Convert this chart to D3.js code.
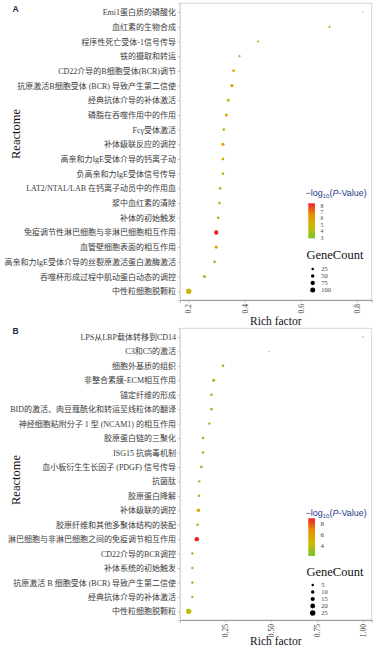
<!DOCTYPE html>
<html><head><meta charset="utf-8">
<script src="https://cdn.jsdelivr.net/npm/d3@7"></script>
<style>body{margin:0;background:#fff}</style>
</head><body>
<svg id="c" width="392" height="657"></svg>
<script>
// ---------- Panel A data (top to bottom) ----------
const categoriesA = [
  "Emi1蛋白质的磷酸化","血红素的生物合成","程序性死亡受体-1信号传导","铁的摄取和转运",
  "CD22介导的B细胞受体(BCR)调节","抗原激活B细胞受体 (BCR) 导致产生第二信使","经典抗体介导的补体激活",
  "磷脂在吞噬作用中的作用","Fcγ受体激活","补体级联反应的调控","高亲和力IgE受体介导的钙离子动",
  "负高亲和力IgE受体信号传导","LAT2/NTAL/LAB 在钙离子动员中的作用血","浆中血红素的清除","补体的初始触发",
  "免疫调节性淋巴细胞与非淋巴细胞相互作用","血管壁细胞表面的相互作用","高亲和力IgE受体介导的丝裂原激活蛋白激酶激活",
  "吞噬杯形成过程中肌动蛋白动态的调控","中性粒细胞脱颗粒"
];
const richA  = [0.822,0.703,0.448,0.382,0.361,0.355,0.342,0.335,0.326,0.323,0.323,0.323,0.313,0.311,0.306,0.299,0.299,0.293,0.257,0.201];
const countA = [6,19,19,19,31,40,31,36,31,40,31,28,28,28,28,77,46,31,36,117];
const logpA  = [2.9,5.65,3.3,3.2,5.5,6.2,4.3,5.6,4.2,5.9,4.8,4.2,3.8,3.7,3.6,8.4,5.6,3.6,3.4,4.5];
const xTicksA = [0.2,0.4,0.6,0.8];
const colorTicksA = [3,4,5,6,7,8];
const sizeTicksA = [25,50,75,100];

// ---------- Panel B data (top to bottom) ----------
const categoriesB = [
  "LPS从LBP载体转移到CD14","C3和C5的激活","细胞外基质的组织","非整合素膜-ECM相互作用","锚定纤维的形成",
  "BID的激活、肉豆蔻酰化和转运至线粒体的翻译","神经细胞粘附分子 1 型 (NCAM1) 的相互作用","胶原蛋白链的三聚化",
  "ISG15 抗病毒机制","血小板衍生生长因子 (PDGF) 信号传导","抗菌肽","胶原蛋白降解","补体级联的调控",
  "胶原纤维和其他多聚体结构的装配","淋巴细胞与非淋巴细胞之间的免疫调节相互作用","CD22介导的BCR调控",
  "补体系统的初始触发","抗原激活 B 细胞受体 (BCR) 导致产生第二信使","经典抗体介导的补体激活","中性粒细胞脱颗粒"
];
const richB  = [1.0,0.488,0.237,0.186,0.174,0.174,0.163,0.128,0.128,0.119,0.108,0.106,0.103,0.098,0.094,0.070,0.070,0.070,0.070,0.05];
const countB = [2,1,6,8,6,6,5,6,6,6,5,5,11,5,17,5,5,5,5,24];
const logpB  = [2.2,2.5,3.0,3.1,2.8,2.8,2.7,2.9,2.9,2.8,2.7,2.8,5.9,2.9,9.0,2.7,2.8,2.8,2.7,4.2];
const xTicksB = [0.25,0.5,0.75,1.0];
const colorTicksB = [4,6,8];
const sizeTicksB = [5,10,15,20,25];

const svg = d3.select("#c");
const SERIF = "'Liberation Serif','Noto Sans CJK SC',serif";
const SANS = "'Liberation Sans',Arial,sans-serif";
const colorStops = ["#78c32d","#cdb900","#e99400","#ee1f26"];

function drawPanel(o) {
  const left = 180, right = 371.7;
  const g = svg.append("g");
  // x scale with ggplot-like 5% expansion
  const ext = d3.extent(o.rich);
  const pad = (ext[1]-ext[0])*0.05;
  const x = d3.scaleLinear().domain([ext[0]-pad, ext[1]+pad]).range([left, right]);
  const y = d3.scalePoint().domain(o.cats).range([o.top, o.bottom]).padding(0.6);
  const cext = d3.extent(o.logp);
  const color = d3.scaleLinear().domain(d3.range(4).map(i => cext[0] + i*(cext[1]-cext[0])/3)).range(colorStops);
  const r = d3.scaleSqrt().domain([0, o.sizeMax]).range([0, o.rMax]);

  // panel border
  g.append("rect").attr("x", left).attr("y", o.top).attr("width", right-left).attr("height", o.bottom-o.top)
    .attr("fill","none").attr("stroke","#d6d6d6").attr("stroke-width",1);

  // y axis
  const ya = g.append("g").attr("transform",`translate(${left},0)`)
    .call(d3.axisLeft(y).tickSize(2.5).tickPadding(1.5));
  ya.select(".domain").attr("stroke","#d6d6d6");
  ya.selectAll(".tick line").attr("stroke","#aaa").attr("stroke-width",0.6);
  ya.selectAll(".tick text").attr("font-family",SERIF).attr("font-size",8).attr("fill","#3a3a3a");

  // x axis
  const xa = g.append("g").attr("transform",`translate(0,${o.bottom})`)
    .call(d3.axisBottom(x).tickValues(o.xTicks).tickFormat(d3.format(o.fmt)).tickSize(2.5));
  xa.select(".domain").attr("stroke","#9a9a9a").attr("stroke-width",1);
  xa.selectAll(".tick line").attr("stroke","#9a9a9a").attr("stroke-width",0.6);
  xa.selectAll(".tick text").attr("font-family",SERIF).attr("font-size",7.5).attr("fill","#3a3a3a")
    .attr("transform","rotate(-90)").attr("text-anchor","end").attr("x",-4).attr("y",0).attr("dy","0.33em");

  // points
  const data = o.cats.map((c,i)=>({c, rf:o.rich[i], n:o.count[i], p:o.logp[i]}));
  g.append("g").selectAll("circle").data(data).join("circle")
    .attr("cx", d=>x(d.rf)).attr("cy", d=>y(d.c)).attr("r", d=>r(d.n)).attr("fill", d=>color(d.p));

  // axis titles
  g.append("text").attr("x",275.8).attr("y",o.bottom+25).attr("text-anchor","middle")
    .attr("font-family",SERIF).attr("font-size",11.5).attr("fill","#111").text("Rich factor");
  g.append("text").attr("transform",`translate(19.5,${o.ylabY}) rotate(-90)`).attr("text-anchor","middle")
    .attr("font-family",SERIF).attr("font-size",12.5).attr("fill","#111").text("Reactome");

  // panel label
  g.append("text").attr("x",12.5).attr("y",o.labY).attr("font-family",SANS).attr("font-weight","bold")
    .attr("font-size",8.5).attr("fill","#1b2a48").text(o.label);

  // colour legend
  const lt = g.append("text").attr("x",305.5).attr("y",o.legTitleY).attr("font-family",SANS)
    .attr("font-size",9).attr("fill","#1f3d8c");
  lt.append("tspan").text("−log");
  lt.append("tspan").attr("font-size",6).attr("dy",2).text("10");
  lt.append("tspan").attr("dy",-2).text("(");
  lt.append("tspan").attr("font-style","italic").text("P");
  lt.append("tspan").text("-Value)");

  const gid = "grad"+o.label;
  const grad = svg.append("defs").append("linearGradient").attr("id",gid)
    .attr("x1",0).attr("y1",1).attr("x2",0).attr("y2",0);
  colorStops.forEach((c,i)=>grad.append("stop").attr("offset",i/3).attr("stop-color",c));
  g.append("rect").attr("x",308.3).attr("y",o.barTop).attr("width",6.7).attr("height",o.barBot-o.barTop)
    .attr("fill",`url(#${gid})`);
  const cy = d3.scaleLinear().domain(cext).range([o.barBot, o.barTop]);
  g.append("g").selectAll("text").data(o.cTicks).join("text")
    .attr("x",320.5).attr("y",d=>cy(d)).attr("dy","0.33em").attr("font-family",SERIF)
    .attr("font-size",o.cFont).attr("fill","#444").text(d=>d);

  // size legend
  g.append("text").attr("x",306.5).attr("y",o.sizeTitleY).attr("font-family",SERIF)
    .attr("font-size",12.5).attr("fill","#111").text("GeneCount");
  const sl = g.append("g").selectAll("g").data(o.sTicks).join("g")
    .attr("transform",(d,i)=>`translate(312.7,${o.sizeY0 + i*o.sizeStep})`);
  sl.append("circle").attr("r",d=>r(d)).attr("fill","#000");
  sl.append("text").attr("x",8.5).attr("dy","0.33em").attr("font-family",SERIF)
    .attr("font-size",6.5).attr("fill","#444").text(d=>d);
}

drawPanel({label:"A", cats:categoriesA, rich:richA, count:countA, logp:logpA, xTicks:xTicksA, fmt:".1f",
  cTicks:colorTicksA, sTicks:sizeTicksA, top:3.3, bottom:300, sizeMax:100, rMax:2.5, cFont:5.8,
  ylabY:134, labY:12, legTitleY:196, barTop:203.3, barBot:238.3, sizeTitleY:258.5, sizeY0:269, sizeStep:7});
drawPanel({label:"B", cats:categoriesB, rich:richB, count:countB, logp:logpB, xTicks:xTicksB, fmt:".2f",
  cTicks:colorTicksB, sTicks:sizeTicksB, top:328.3, bottom:620, sizeMax:25, rMax:2.7, cFont:7,
  ylabY:480, labY:334, legTitleY:515.5, barTop:518.3, barBot:556, sizeTitleY:575.5, sizeY0:585, sizeStep:7});
</script>
</body></html>
